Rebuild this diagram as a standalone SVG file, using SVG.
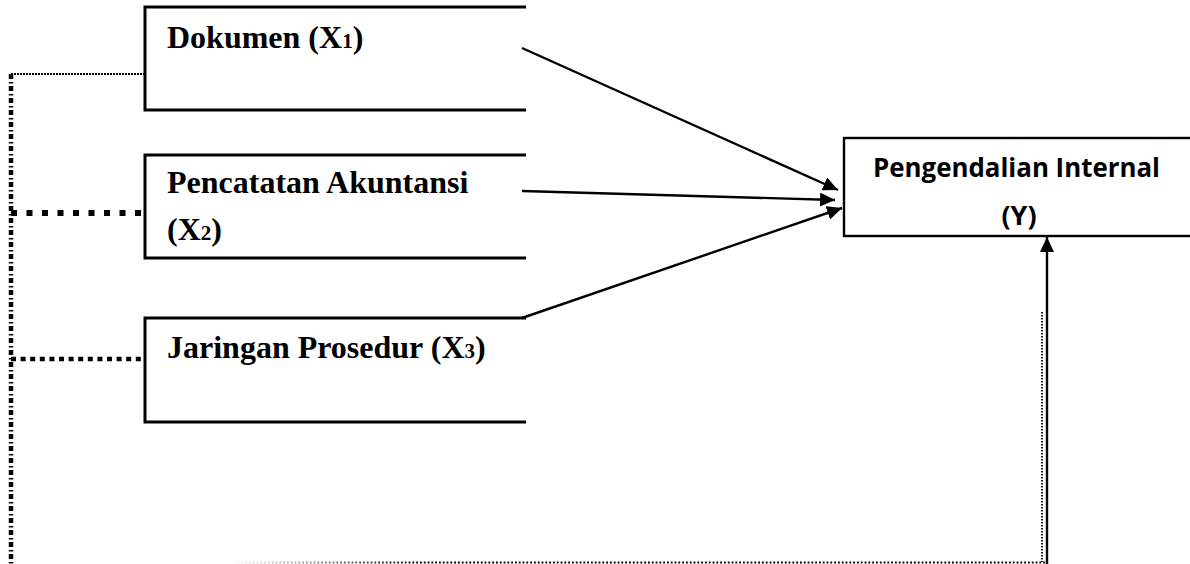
<svg xmlns="http://www.w3.org/2000/svg" width="1190" height="564" viewBox="0 0 1190 564">
<style>
.lbl{font-family:"Liberation Serif","Times New Roman",serif;font-weight:bold;font-size:32px;fill:#000}
.sub{font-size:21px}
.ylbl{font-family:"Open Sans","Noto Sans",sans-serif;font-weight:bold;font-size:27px;fill:#000}
.edge{stroke:#000;stroke-width:3;fill:none}
.arr{stroke:#000;stroke-width:2.4;fill:none;marker-end:url(#ah)}
</style>
<defs>
<marker id="ah" markerUnits="userSpaceOnUse" markerWidth="16" markerHeight="14" refX="15" refY="7" orient="auto">
<path d="M0,0 L15,7 L0,14 Z" fill="#000"/>
</marker>
<linearGradient id="fade" gradientUnits="userSpaceOnUse" x1="230" y1="0" x2="420" y2="0">
<stop offset="0" stop-color="#fff"/>
<stop offset="1" stop-color="#000"/>
</linearGradient>
</defs>
<rect width="1190" height="564" fill="#fff"/>

<g id="node-x1">
<path class="edge" d="M526,7 H145 V110 H526"/>
<text class="lbl" x="167" y="48">Dokumen (X<tspan class="sub">1</tspan>)</text>
</g>
<g id="node-x2">
<path class="edge" d="M526,155 H145 V258 H526"/>
<text class="lbl" x="167" y="193">Pencatatan Akuntansi</text>
<text class="lbl" x="167" y="240">(X<tspan class="sub">2</tspan>)</text>
</g>
<g id="node-x3">
<path class="edge" d="M526,318 H145 V422 H526"/>
<text class="lbl" x="167" y="358">Jaringan Prosedur (X<tspan class="sub">3</tspan>)</text>
</g>
<g id="node-y">
<rect x="844" y="138" width="360" height="98" fill="none" stroke="#000" stroke-width="2.4"/>
<text class="ylbl" x="873" y="177" textLength="287" lengthAdjust="spacingAndGlyphs">Pengendalian Internal</text>
<text class="ylbl" x="1019" y="225" text-anchor="middle">(Y)</text>
</g>

<g id="connectors">
<line class="arr" x1="522" y1="48" x2="838" y2="190"/>
<line class="arr" x1="522" y1="191" x2="835" y2="200"/>
<line class="arr" x1="522" y1="318" x2="842" y2="208"/>
<line class="arr" x1="1047" y1="564" x2="1047" y2="237"/>
<line x1="1042" y1="312" x2="1042" y2="562" stroke="#000" stroke-width="1.8" stroke-dasharray="1.5 1.5"/>
<line x1="230" y1="562.5" x2="1047" y2="562.5" stroke="url(#fade)" stroke-width="1.8" stroke-dasharray="1.8 2"/>
<line x1="11" y1="74" x2="11" y2="564" stroke="#000" stroke-width="4.5" stroke-dasharray="5 3 1.5 2.5"/>
<line x1="11" y1="74" x2="145" y2="74" stroke="#000" stroke-width="2" stroke-dasharray="2 1"/>
<line x1="11" y1="213" x2="145" y2="213" stroke="#000" stroke-width="6" stroke-dasharray="6 9.5"/>
<line x1="11" y1="359" x2="145" y2="359" stroke="#000" stroke-width="4.5" stroke-dasharray="5 4.6"/>
</g>
</svg>
